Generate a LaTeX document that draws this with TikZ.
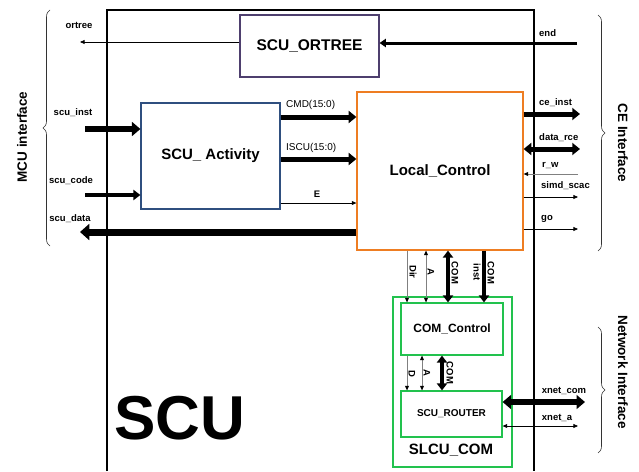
\documentclass[tikz,border=0pt]{standalone}
\usepackage{fontspec}
\setmainfont{Liberation Sans}
\usetikzlibrary{arrows.meta,decorations.pathreplacing}
\definecolor{ortc}{HTML}{4E3F6E}
\definecolor{actc}{HTML}{2F4F7F}
\definecolor{locc}{HTML}{EE7D22}
\definecolor{grnc}{HTML}{22C24E}
\definecolor{sigg}{HTML}{808080}
\begin{document}
\begin{tikzpicture}[x=1pt,y=-1pt,
  >={Triangle[length=4pt 0.75,width=2.5pt 1.9]},
  blk/.style={draw, line width=1.2pt, inner sep=0pt, font=\bfseries\fontsize{15}{18}\selectfont},
  lbl/.style={font=\bfseries\fontsize{9.5}{11}\selectfont, inner sep=0pt},
  lblr/.style={font=\fontsize{10}{12}\selectfont, inner sep=0pt},
  side/.style={font=\bfseries\fontsize{13.5}{16}\selectfont, inner sep=0pt},
  thinw/.style={line width=0.7pt},
  greysig/.style={line width=0.7pt, sigg, >={Triangle[length=4pt 0.75,width=2.5pt 1.9,color=black]}},
  brc/.style={draw=black!80, line width=0.6pt, decorate, decoration={brace, amplitude=7pt}},
]
\useasboundingbox (0,0) rectangle (639,471);
% outer SCU frame
\draw[line width=1.3pt] (107,471) -- (107,10) -- (534,10) -- (534,471);

% blocks
\node[blk, draw=ortc, minimum width=139pt, minimum height=62pt, font=\bfseries\fontsize{15.5}{18}\selectfont] (ortree) at (309.5,46) {SCU\_ORTREE};
\node[blk, draw=actc, minimum width=139pt, minimum height=106pt] (act) at (210.5,156) {SCU\_ Activity};
\node[blk, draw=locc, minimum width=166pt, minimum height=158pt] (loc) at (440,171) {Local\_Control};
\node[blk, draw=grnc, minimum width=119pt, minimum height=170pt] (slcu) at (452.5,382) {};
\node[blk, draw=grnc, minimum width=102pt, minimum height=52pt, font=\bfseries\fontsize{12}{14}\selectfont] (comctl) at (452,329) {COM\_Control};
\node[blk, draw=grnc, minimum width=101pt, minimum height=46pt, font=\bfseries\fontsize{10}{12}\selectfont] (router) at (451.5,414) {SCU\_ROUTER};
\node[font=\bfseries\fontsize{15}{18}\selectfont, inner sep=0pt] (slcut) at (451,450) {SLCU\_COM};
\node[font=\bfseries\fontsize{62}{62}\selectfont, inner sep=0pt] (scu) at (180,418) {SCU};

% ortree / end
\coordinate (ortE) at (80,42);
\draw[thinw,->] (ortE -| ortree.west) -- (ortE);
\node[lbl] (lortree) at (79,25) {ortree};
\coordinate (endS) at (577,43);
\draw[line width=3pt,->] (endS) -- (endS -| ortree.east);
\node[lbl, anchor=west] (lend) at (539,33) {end};

% MCU side
\coordinate (instS) at (85,129);
\draw[line width=6pt,->] (instS) -- (instS -| act.west);
\node[lbl] (linst) at (73,113) {scu\_inst};
\coordinate (codeS) at (85,195);
\draw[line width=4pt,->] (codeS) -- (codeS -| act.west);
\node[lbl] (lcode) at (71,181) {scu\_code};
\coordinate (dataE) at (80,232);
\draw[line width=7pt,->] (dataE -| loc.west) -- (dataE);
\node[lbl] (ldata) at (70,219) {scu\_data};

% activity -> local
\coordinate (cmdY) at (0,117);
\draw[line width=5pt,->] (act.east |- cmdY) -- (loc.west |- cmdY);
\node[lblr, anchor=west] (lcmd) at (286,105) {CMD(15:0)};
\coordinate (iscuY) at (0,159);
\draw[line width=5pt,->] (act.east |- iscuY) -- (loc.west |- iscuY);
\node[lblr, anchor=west] (liscu) at (286,148) {ISCU(15:0)};
\coordinate (eY) at (0,203);
\draw[thinw,->] (act.east |- eY) -- (loc.west |- eY);
\node[lbl] (le) at (317,194) {E};

% CE side
\coordinate (ceE) at (580,114);
\draw[line width=5pt,->] (loc.east |- ceE) -- (ceE);
\node[lbl, anchor=west] (lce) at (539,103) {ce\_inst};
\coordinate (rceE) at (580,149);
\draw[line width=5pt,<->] (loc.east |- rceE) -- (rceE);
\node[lbl, anchor=west] (lrce) at (539,138) {data\_rce};
\coordinate (rwS) at (578,174);
\draw[greysig, ->] (rwS) -- (rwS -| loc.east);
\node[lbl, anchor=west] (lrw) at (542,166) {r\_w};
\coordinate (simdE) at (578,197);
\draw[thinw,->] (loc.east |- simdE) -- (simdE);
\node[lbl, anchor=west] (lsimd) at (541,186) {simd\_scac};
\coordinate (goE) at (578,229);
\draw[thinw,->] (loc.east |- goE) -- (goE);
\node[lbl, anchor=west] (lgo) at (541,219) {go};

% local -> com control
\coordinate (dirX) at (407,0);
\coordinate (aX) at (426,0);
\coordinate (comX) at (448,0);
\coordinate (instX) at (484,0);
\draw[greysig, ->] (loc.south -| dirX) -- (comctl.north -| dirX);
\draw[greysig, <->] (loc.south -| aX) -- (comctl.north -| aX);
\draw[line width=4pt, <->] (loc.south -| comX) -- (comctl.north -| comX);
\draw[line width=4pt, ->] (loc.south -| instX) -- (comctl.north -| instX);
\node[lbl, rotate=-90] (ldir) at (413,272) {Dir};
\node[lbl, rotate=-90] (la1) at (431,272) {A};
\node[lbl, rotate=-90] (lcom1) at (455,273) {COM};
\node[lbl, rotate=-90] (linst2) at (477,272) {inst};
\node[lbl, rotate=-90] (lcom2) at (491,273) {COM};

% com control -> router
\coordinate (dX) at (407,0);
\coordinate (a2X) at (422,0);
\coordinate (com2X) at (442,0);
\draw[greysig, ->] (comctl.south -| dX) -- (router.north -| dX);
\draw[greysig, <->] (comctl.south -| a2X) -- (router.north -| a2X);
\draw[line width=4pt, <->] (comctl.south -| com2X) -- (router.north -| com2X);
\node[lbl, rotate=-90] (ld) at (412,374) {D};
\node[lbl, rotate=-90] (la2) at (427,373) {A};
\node[lbl, rotate=-90] (lcom3) at (450,373) {COM};

% network
\coordinate (xcE) at (585,402);
\draw[line width=6pt, <->] (router.east |- xcE) -- (xcE);
\node[lbl] (lxc) at (564,391) {xnet\_com};
\coordinate (xaE) at (578,426);
\draw[thinw, <->] (router.east |- xaE) -- (xaE);
\node[lbl] (lxa) at (557,418) {xnet\_a};

% braces and interface labels
\coordinate (mcuB) at (50,246);
\coordinate (mcuT) at (50,10);
\draw[brc] (mcuB) -- (mcuT);
\node[side, rotate=90] (lmcu) at (22,137) {MCU interface};
\coordinate (ceT) at (598,15);
\coordinate (ceB) at (598,251);
\draw[brc] (ceT) -- (ceB);
\node[side, rotate=-90] (lcei) at (623,143) {CE Interface};
\coordinate (netT) at (598,327);
\coordinate (netB) at (598,453);
\draw[brc] (netT) -- (netB);
\node[side, rotate=-90] (lnet) at (623,372) {Network Interface};
\end{tikzpicture}
\end{document}
